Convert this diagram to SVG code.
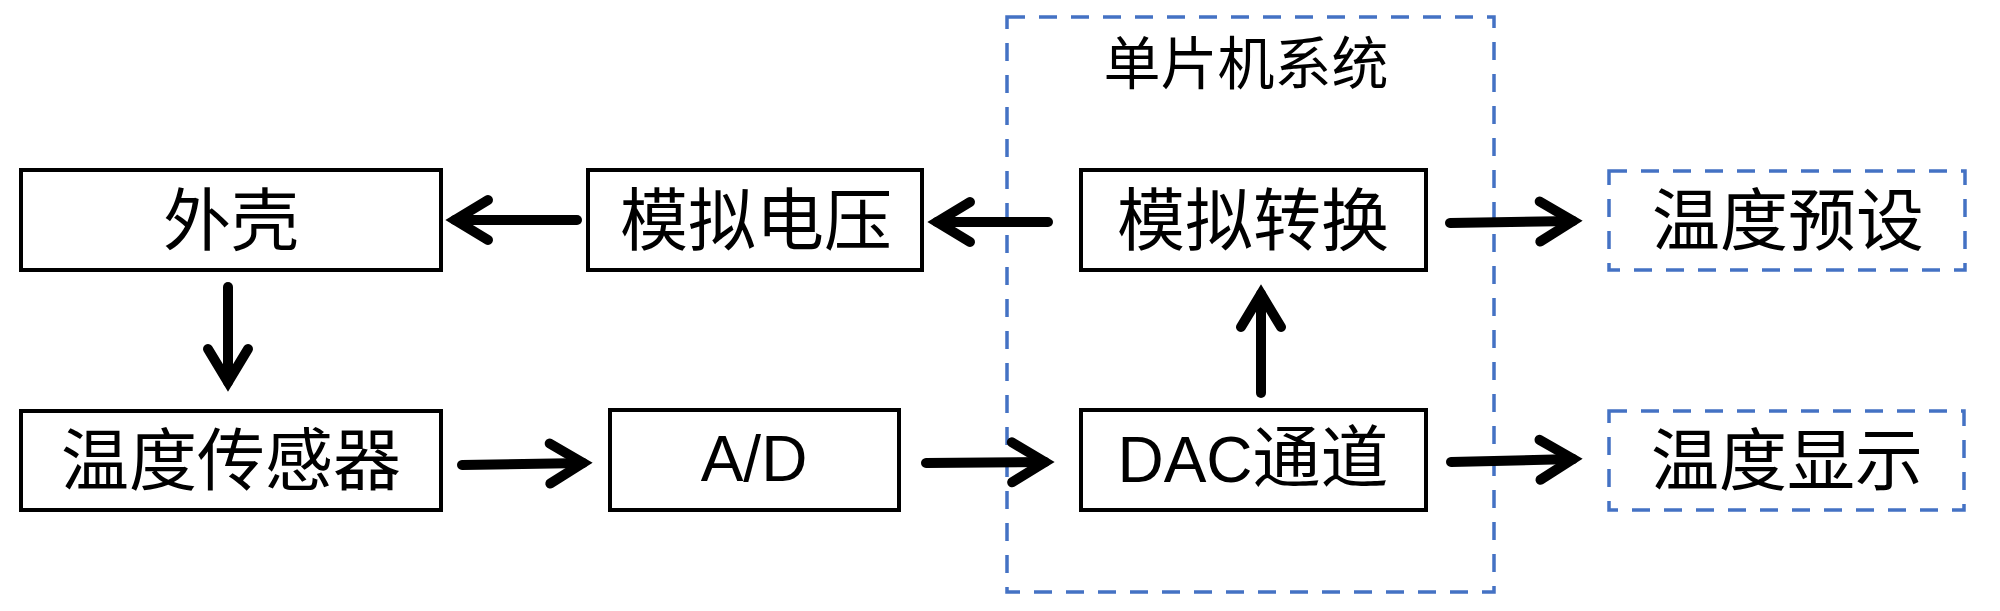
<svg xmlns="http://www.w3.org/2000/svg" width="2000" height="611" viewBox="0 0 2000 611">
<style>
.box{fill:#fff;stroke:#000;stroke-width:4}
.dash{fill:none;stroke:#4472C4;stroke-width:3.5;stroke-dasharray:18 14}
.t{font-family:"Liberation Sans","Noto Sans CJK SC",sans-serif;font-size:68px;fill:#000;text-anchor:middle}
.lat{font-size:64px}
.title{font-size:57px}
.arr{fill:none;stroke:#000;stroke-width:10;stroke-linecap:round;marker-end:url(#ah)}
</style>
<defs>
<marker id="ah" markerUnits="userSpaceOnUse" viewBox="-40 -30 50 60" markerWidth="50" markerHeight="60" refX="0" refY="0" orient="auto" overflow="visible">
<path d="M-33,-20 L0,0 L-33,20" fill="none" stroke="#000" stroke-width="10" stroke-linecap="round" stroke-linejoin="miter"/>
</marker>
</defs>
<rect width="2000" height="611" fill="#fff"/>
<g id="mcu-system">
<rect class="dash" x="1007" y="17" width="487" height="575"/>
<text class="t title" x="1246" y="84">单片机系统</text>
</g>
<g id="connectors">
<line class="arr" x1="577" y1="220" x2="455" y2="220"/>
<line class="arr" x1="228" y1="287" x2="228" y2="382"/>
<line class="arr" x1="462" y1="465" x2="583" y2="463"/>
<line class="arr" x1="926" y1="463" x2="1045" y2="462"/>
<line class="arr" x1="1048" y1="222" x2="937" y2="222"/>
<line class="arr" x1="1261" y1="393" x2="1261" y2="294"/>
<line class="arr" x1="1450" y1="223" x2="1573" y2="221"/>
<line class="arr" x1="1451" y1="462" x2="1573" y2="459"/>
</g>
<g id="shell">
<rect class="box" x="21" y="170" width="420" height="100"/>
<text class="t" x="231" y="245">外壳</text>
</g>
<g id="analog-voltage">
<rect class="box" x="588" y="170" width="334" height="100"/>
<text class="t" x="756" y="245">模拟电压</text>
</g>
<g id="analog-convert">
<rect class="box" x="1081" y="170" width="345" height="100"/>
<text class="t" x="1253" y="245">模拟转换</text>
</g>
<g id="temp-preset">
<rect class="dash" x="1609" y="171" width="356" height="99"/>
<text class="t" x="1788" y="245">温度预设</text>
</g>
<g id="temp-sensor">
<rect class="box" x="21" y="411" width="420" height="99"/>
<text class="t" x="231" y="485">温度传感器</text>
</g>
<g id="ad">
<rect class="box" x="610" y="410" width="289" height="100"/>
<text class="t lat" x="754" y="481">A/D</text>
</g>
<g id="dac-channel">
<rect class="box" x="1081" y="410" width="345" height="100"/>
<text class="t" x="1253" y="482"><tspan class="lat">DAC</tspan>通道</text>
</g>
<g id="temp-display">
<rect class="dash" x="1609" y="411" width="355" height="99"/>
<text class="t" x="1787" y="485">温度显示</text>
</g>
</svg>
